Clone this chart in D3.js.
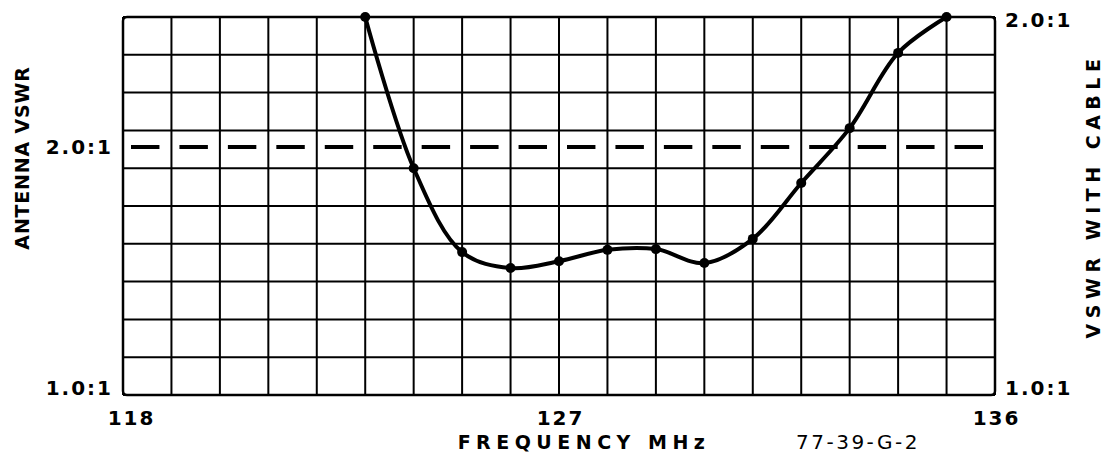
<!DOCTYPE html>
<html><head><meta charset="utf-8">
<script src="https://cdn.jsdelivr.net/npm/d3@7"></script>
<style>
body{margin:0;background:#fff;}
text{font-family:"DejaVu Sans",sans-serif;fill:#000;}
</style></head>
<body>
<svg id="c" width="1105" height="461"></svg>
<script>
// Data
const frequencies = [123,124,125,126,127,128,129,130,131,132,133,134,135];
const vswrWithCable = [2.00,1.60,1.378,1.336,1.354,1.384,1.386,1.349,1.413,1.561,1.706,1.905,2.00];
const xTicks = [118,127,136];
const gridFreqs = d3.range(118,137,1);
const gridVswr = d3.range(0,11).map(i => 1 + i/10);
const leftTicks = [1.0, 2.0];
const rightTicks = [1.0, 2.0];
const antennaLimit = 2.0;

const svg = d3.select("#c");
const x = d3.scaleLinear().domain([118,136]).range([123,995]);
const yR = d3.scaleLinear().domain([1,2]).range([395,17]);
const yL = d3.scaleLinear().domain([1,2]).range([395,147]);
const fmt = d => d.toFixed(1) + ":1";

// grid
const g = svg.append("g").attr("stroke","#000").attr("stroke-width",2);
g.selectAll(".v").data(gridFreqs).enter().append("line")
  .attr("x1",d=>x(d)).attr("x2",d=>x(d)).attr("y1",yR(2)).attr("y2",yR(1));
g.selectAll(".h").data(gridVswr).enter().append("line")
  .attr("y1",d=>yR(d)).attr("y2",d=>yR(d)).attr("x1",x(118)).attr("x2",x(136));
svg.append("rect").attr("x",x(118)).attr("y",yR(2)).attr("width",x(136)-x(118)).attr("height",yR(1)-yR(2))
  .attr("rx",4).attr("fill","none").attr("stroke","#000").attr("stroke-width",2.5);

// dashed antenna 2.0:1 line
const cell = x(119)-x(118);
svg.append("line").attr("x1",x(118)).attr("x2",x(136))
  .attr("y1",yL(antennaLimit)).attr("y2",yL(antennaLimit))
  .attr("stroke","#000").attr("stroke-width",4)
  .attr("stroke-dasharray",`${cell-20},20`).attr("stroke-dashoffset",-8);

// curve
const pts = frequencies.map((f,i)=>[f,vswrWithCable[i]]);
svg.append("path").datum(pts)
  .attr("d", d3.line().x(d=>x(d[0])).y(d=>yR(d[1])).curve(d3.curveCatmullRom.alpha(0.5)))
  .attr("fill","none").attr("stroke","#000").attr("stroke-width",4).attr("stroke-linejoin","round");
svg.selectAll(".pt").data(pts).enter().append("circle")
  .attr("cx",d=>x(d[0])).attr("cy",d=>yR(d[1])).attr("r",5).attr("fill","#000");

const boldLbl = sel => sel.style("font-size","20px").style("font-weight","bold")
  .style("font-family","DejaVu Sans").style("letter-spacing","2px");

// axes
const ax = svg.append("g").attr("transform","translate(0,395)")
  .call(d3.axisBottom(x).tickValues(xTicks).tickSize(0).tickPadding(16).tickFormat(d3.format("d")));
ax.select(".domain").remove();
ax.selectAll("text").call(boldLbl).attr("dx", d => d===118 ? 8 : 1);

const al = svg.append("g").attr("transform","translate(113,0)")
  .call(d3.axisLeft(yL).tickValues(leftTicks).tickSize(0).tickPadding(0).tickFormat(fmt));
al.select(".domain").remove();
al.selectAll("text").call(boldLbl).attr("dy", d => d===1 ? "-0.05em" : "0.32em");

const ar = svg.append("g").attr("transform","translate(1005,0)")
  .call(d3.axisRight(yR).tickValues(rightTicks).tickSize(0).tickPadding(0).tickFormat(fmt));
ar.select(".domain").remove();
ar.selectAll("text").call(boldLbl).attr("dy", d => d===1 ? "-0.05em" : "0.45em");

// titles
svg.append("text").attr("transform","translate(29,158) rotate(-90)").attr("text-anchor","middle")
  .style("font-size","19px").style("font-weight","bold").style("letter-spacing","0.8px").text("ANTENNA VSWR");
svg.append("text").attr("transform","translate(1100,196) rotate(-90)").attr("text-anchor","middle")
  .style("font-size","19px").style("font-weight","bold").style("letter-spacing","5.5px").text("VSWR WITH CABLE");
svg.append("text").attr("x",584).attr("y",449).attr("text-anchor","middle")
  .style("font-size","19px").style("font-weight","bold").style("letter-spacing","5.5px").text("FREQUENCY MHz");
svg.append("text").attr("x",858).attr("y",449).attr("text-anchor","middle")
  .style("font-size","20px").style("letter-spacing","2.5px").text("77-39-G-2");
</script>
</body></html>
